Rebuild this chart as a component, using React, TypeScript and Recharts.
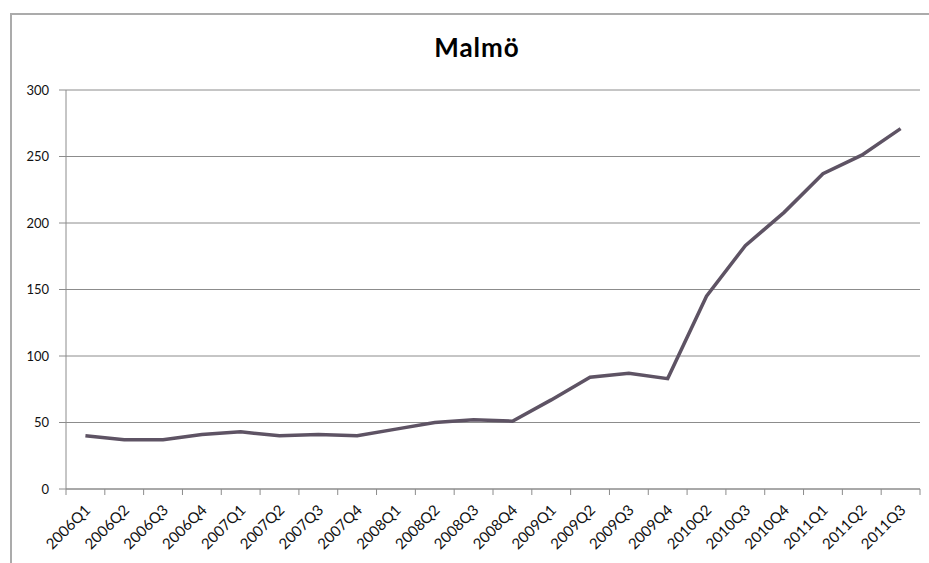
import React from 'react'
import { LineChart, Line, XAxis, YAxis, CartesianGrid } from 'recharts'

const quarters = [
  '2006Q1', '2006Q2', '2006Q3', '2006Q4',
  '2007Q1', '2007Q2', '2007Q3', '2007Q4',
  '2008Q1', '2008Q2', '2008Q3', '2008Q4',
  '2009Q1', '2009Q2', '2009Q3', '2009Q4',
  '2010Q2', '2010Q3', '2010Q4',
  '2011Q1', '2011Q2', '2011Q3',
]
const malmoValues = [
  40, 37, 37, 41,
  43, 40, 41, 40,
  45, 50, 52, 51,
  67, 84, 87, 83,
  145, 183, 208,
  237, 251, 271,
]
const yTicks = [0, 50, 100, 150, 200, 250, 300]

const chartData = quarters.map((q, i) => ({ quarter: q, value: malmoValues[i] }))

const WIDTH = 929
const HEIGHT = 563
const X_AXIS_HEIGHT = 74
const MARGIN = { top: 90, right: 9, bottom: 0, left: 0 }
const Y_AXIS_WIDTH = 66
const FONT = 'Lato, "Open Sans", sans-serif'
const AXIS_GRAY = '#8c8c8c'

const plotWidth = WIDTH - MARGIN.left - MARGIN.right - Y_AXIS_WIDTH
const band = plotWidth / quarters.length

// Excel style: tick marks sit between categories, labels rotated -45deg
const QuarterTick = (props: any) => {
  const { x, y, payload, index } = props
  const left = x - band / 2
  const tx = x + 6
  const ty = y + 22
  return (
    <g>
      <line x1={left} y1={y} x2={left} y2={y + 6} stroke={AXIS_GRAY} strokeWidth={1} />
      {index === quarters.length - 1 && (
        <line x1={left + band} y1={y} x2={left + band} y2={y + 6} stroke={AXIS_GRAY} strokeWidth={1} />
      )}
      <text
        x={tx}
        y={ty}
        textAnchor="end"
        fontSize={15}
        fontFamily={FONT}
        fill="#111"
        transform={`rotate(-45, ${tx}, ${ty})`}
      >
        {payload.value}
      </text>
    </g>
  )
}

export default function App() {
  return (
    <div style={{ position: 'absolute', left: 0, top: 0, width: WIDTH, height: HEIGHT, background: '#fff', overflow: 'hidden' }}>
      <div
        style={{
          position: 'absolute',
          left: 10,
          top: 13,
          width: WIDTH,
          height: HEIGHT,
          borderLeft: '2px solid #ababab',
          borderTop: '2px solid #ababab',
        }}
      />
      <div
        style={{
          position: 'absolute',
          left: 0,
          top: 31,
          width: 954,
          textAlign: 'center',
          fontFamily: FONT,
          fontWeight: 'bold',
          fontSize: 26,
          letterSpacing: 1,
          color: '#000',
        }}
      >
        Malmö
      </div>
      <div style={{ position: 'absolute', left: 0, top: 0 }}>
        <LineChart width={WIDTH} height={HEIGHT} data={chartData} margin={MARGIN}>
          <CartesianGrid vertical={false} stroke={AXIS_GRAY} strokeWidth={1} />
          <XAxis
            dataKey="quarter"
            interval={0}
            tickSize={0}
            tickMargin={0}
            tickLine={false}
            padding={{ left: band / 2, right: band / 2 }}
            axisLine={{ stroke: AXIS_GRAY, strokeWidth: 1 }}
            tick={<QuarterTick />}
            height={X_AXIS_HEIGHT}
          />
          <YAxis
            width={Y_AXIS_WIDTH}
            domain={[0, 300]}
            ticks={yTicks}
            interval={0}
            tickSize={7}
            tickMargin={10}
            tickLine={{ stroke: AXIS_GRAY }}
            axisLine={{ stroke: AXIS_GRAY, strokeWidth: 1 }}
            tick={{ fontSize: 13, fontFamily: FONT, fill: '#111' }}
          />
          <Line
            type="linear"
            dataKey="value"
            stroke="#5e5364"
            strokeWidth={3.5}
            dot={false}
            isAnimationActive={false}
          />
        </LineChart>
      </div>
    </div>
  )
}
